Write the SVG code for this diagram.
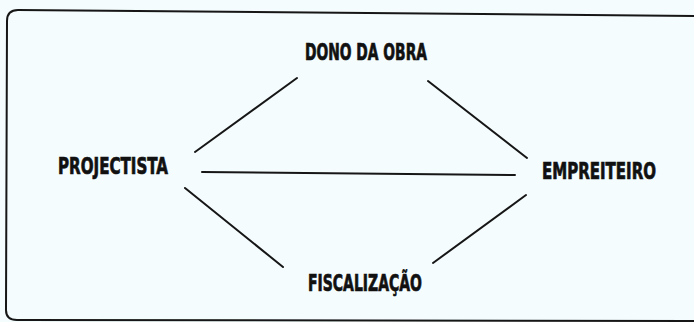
<svg xmlns="http://www.w3.org/2000/svg" width="694" height="322" viewBox="0 0 694 322">
<style>
.lbl{font-family:"Liberation Sans Narrow","DejaVu Sans Condensed","Liberation Sans",sans-serif;font-weight:bold;font-size:23px;fill:#111;stroke:#111;stroke-width:0.7;}
.ln{stroke:#161616;stroke-width:2;fill:none;stroke-linecap:round;}
</style>
<rect x="0" y="0" width="694" height="322" fill="#f4fcfe"/>
<path class="ln" d="M700,16 L18,10 Q7,10 7,21 L6,310 Q6,320 17,320 L700,321"/>
<g id="connectors">
<line class="ln" x1="195" y1="152" x2="297" y2="78"/>
<line class="ln" x1="428" y1="81" x2="527" y2="158"/>
<line class="ln" x1="202" y1="172" x2="515" y2="175"/>
<line class="ln" x1="185" y1="188" x2="283" y2="267"/>
<line class="ln" x1="433" y1="263" x2="526" y2="195"/>
</g>
<g id="dono"><text class="lbl" x="305" y="60" textLength="122" lengthAdjust="spacingAndGlyphs">DONO DA OBRA</text></g>
<g id="projectista"><text class="lbl" x="58" y="174" textLength="110" lengthAdjust="spacingAndGlyphs">PROJECTISTA</text></g>
<g id="empreiteiro"><text class="lbl" x="542" y="179" textLength="114" lengthAdjust="spacingAndGlyphs">EMPREITEIRO</text></g>
<g id="fiscalizacao"><text class="lbl" x="308" y="291" textLength="114" lengthAdjust="spacingAndGlyphs">FISCALIZAÇÃO</text></g>
</svg>
